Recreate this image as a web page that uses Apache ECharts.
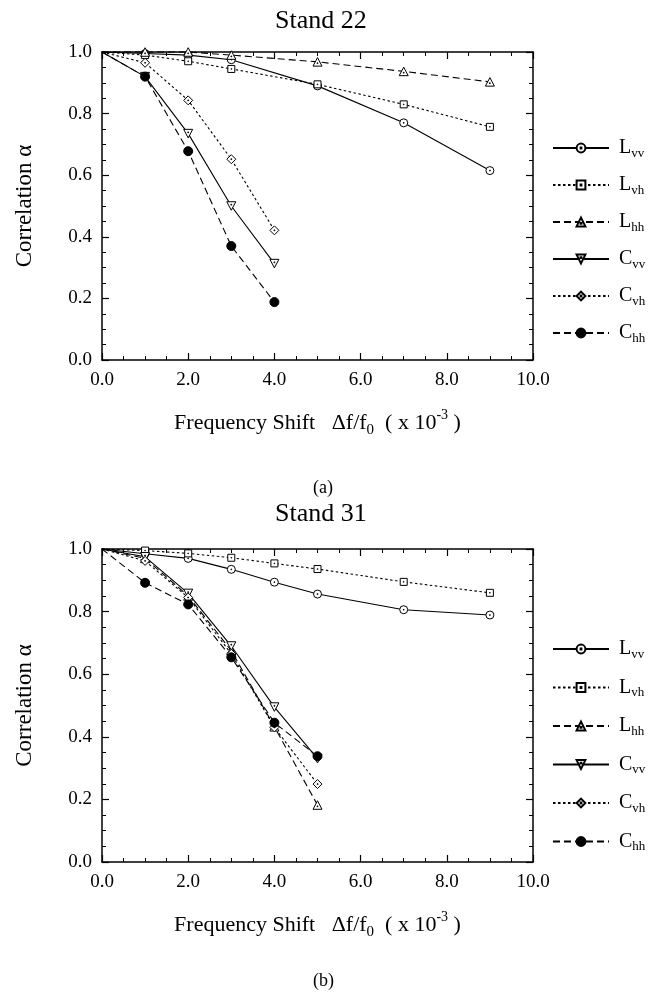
<!DOCTYPE html>
<html>
<head>
<meta charset="utf-8">
<script src="https://cdn.jsdelivr.net/npm/echarts@6/dist/echarts.min.js"></script>
<style>
  html, body { margin: 0; padding: 0; background: #fff; }
  #chart { width: 652px; height: 997px; }
</style>
</head>
<body>
<div id="chart"></div>
<script>
// Stand 22 (a)
const stand22X_L = [0, 1, 2, 3, 5, 7, 9];
const stand22_Lvv = [1.0, 0.995, 0.99, 0.975, 0.89, 0.77, 0.615];
const stand22_Lvh = [1.0, 0.99, 0.97, 0.945, 0.895, 0.83, 0.757];
const stand22_Lhh = [1.0, 1.0, 1.0, 0.99, 0.968, 0.937, 0.903];
const stand22X_C = [0, 1, 2, 3, 4];
const stand22_Cvv = [1.0, 0.92, 0.735, 0.50, 0.313];
const stand22_Cvh = [1.0, 0.965, 0.843, 0.652, 0.421];
const stand22_Chh = [1.0, 0.92, 0.678, 0.37, 0.188];

// Stand 31 (b)
const stand31X_L = [0, 1, 2, 3, 4, 5, 7, 9];
const stand31_Lvv = [1.0, 0.985, 0.97, 0.935, 0.894, 0.856, 0.806, 0.789];
const stand31_Lvh = [1.0, 0.995, 0.986, 0.972, 0.954, 0.936, 0.895, 0.86];
const stand31X_C = [0, 1, 2, 3, 4, 5];
const stand31_Lhh = [1.0, 0.97, 0.85, 0.675, 0.432, 0.182];
const stand31_Cvv = [1.0, 0.975, 0.858, 0.69, 0.495, 0.33];
const stand31_Cvh = [1.0, 0.962, 0.845, 0.665, 0.43, 0.249];
const stand31_Chh = [1.0, 0.892, 0.823, 0.654, 0.445, 0.338];

const seriesKeys = ['Lvv', 'Lvh', 'Lhh', 'Cvv', 'Cvh', 'Chh'];

const FONT = '"Liberation Serif", "DejaVu Serif", serif';
const DOT = 'M-0.9,-0.9H0.9V0.9H-0.9Z';
const sym = {
  Lvv: 'path://M0,-10A10,10,0,1,1,0,10A10,10,0,1,1,0,-10Z' + DOT,
  Lvh: 'path://M-10,-10H10V10H-10Z' + DOT,
  Lhh: 'path://M0,-11L10,8H-10Z' + 'M-0.9,0.5H0.9V2.3H-0.9Z',
  Cvv: 'path://M0,11L10,-8H-10Z' + 'M-0.9,-2.3H0.9V-0.5H-0.9Z',
  Cvh: 'path://M0,-10L10,0L0,10L-10,0Z' + DOT,
  Chh: 'circle'
};
const symSize = { Lvv: 8, Lvh: 7, Lhh: 9, Cvv: 9, Cvh: 9, Chh: 9 };
const dash = {
  Lvv: 'solid', Cvv: 'solid',
  Lvh: [2.5, 2.5], Cvh: [2.5, 2.5],
  Lhh: [7, 4], Chh: [7, 4]
};

function mk(prefix, key, gi, xs, ys) {
  return {
    name: prefix + ':' + key,
    type: 'line',
    xAxisIndex: gi * 2,
    yAxisIndex: gi * 2,
    // the common starting point (0, 1.0) carries no marker
    data: xs.map((x, i) => i === 0 ? { value: [x, ys[i]], symbol: 'none' } : [x, ys[i]]),
    symbol: sym[key],
    symbolSize: symSize[key],
    symbolKeepAspect: true,
    showAllSymbol: true,
    clip: false,
    lineStyle: { color: '#000', width: 1.1, type: dash[key] },
    itemStyle: { color: key === 'Chh' ? '#000' : '#fff', borderColor: '#000', borderWidth: 1 },
    emphasis: { disabled: true },
    animation: false
  };
}

function xAxes(gi) {
  const base = {
    type: 'value', gridIndex: gi, min: 0, max: 10, interval: 2,
    axisLine: { show: true, onZero: false, lineStyle: { color: '#000', width: 1.5 } },
    axisTick: { show: true, inside: true, length: 7, lineStyle: { color: '#000', width: 1.2 } },
    minorTick: { show: true, splitNumber: 4, length: 4, lineStyle: { color: '#000', width: 1 } },
    splitLine: { show: false }
  };
  return [
    Object.assign({}, base, {
      position: 'bottom',
      axisLabel: { color: '#000', fontFamily: FONT, fontSize: 19, margin: 11, formatter: v => v.toFixed(1) },
      name: '{n|Frequency Shift   Δf/f}{s|0}{n|  ( x 10}{p|-3}{n| )}',
      nameLocation: 'middle',
      nameGap: 48,
      nameTextStyle: {
        fontFamily: FONT, fontSize: 22, color: '#000',
        rich: {
          n: { fontFamily: FONT, fontSize: 22, color: '#000', lineHeight: 30 },
          s: { fontFamily: FONT, fontSize: 15, color: '#000', lineHeight: 13, verticalAlign: 'bottom' },
          p: { fontFamily: FONT, fontSize: 14, color: '#000', lineHeight: 14, verticalAlign: 'top' }
        }
      }
    }),
    Object.assign({}, base, { position: 'top', axisLabel: { show: false } })
  ];
}

function yAxes(gi) {
  const base = {
    type: 'value', gridIndex: gi, min: 0, max: 1, interval: 0.2,
    axisLine: { show: true, onZero: false, lineStyle: { color: '#000', width: 1.5 } },
    axisTick: { show: true, inside: true, length: 7, lineStyle: { color: '#000', width: 1.2 } },
    minorTick: { show: true, splitNumber: 4, length: 4, lineStyle: { color: '#000', width: 1 } },
    splitLine: { show: false }
  };
  return [
    Object.assign({}, base, {
      position: 'left',
      axisLabel: { color: '#000', fontFamily: FONT, fontSize: 19, margin: 10, formatter: v => v.toFixed(1) },
      name: 'Correlation α',
      nameLocation: 'middle',
      nameRotate: 90,
      nameGap: 66,
      nameTextStyle: { fontFamily: FONT, fontSize: 23, color: '#000' }
    }),
    Object.assign({}, base, { position: 'right', axisLabel: { show: false } })
  ];
}

function legend(prefix, top, gap) {
  return {
    orient: 'vertical',
    left: 547,
    top: top,
    itemWidth: 56,
    itemHeight: 11,
    itemGap: gap,
    selectedMode: false,
    data: seriesKeys.map(k => prefix + ':' + k),
    formatter: name => {
      const k = name.split(':')[1];
      return '{m|' + k[0] + '}{s|' + k.slice(1) + '}';
    },
    textStyle: {
      fontFamily: FONT, color: '#000', padding: [0, 0, 0, 5],
      rich: {
        m: { fontFamily: FONT, fontSize: 20, color: '#000', lineHeight: 24 },
        s: { fontFamily: FONT, fontSize: 13, color: '#000', lineHeight: 12, verticalAlign: 'bottom' }
      }
    }
  };
}

const chart = echarts.init(document.getElementById('chart'), null, { renderer: 'canvas' });

const series = [
  mk('a', 'Lvv', 0, stand22X_L, stand22_Lvv),
  mk('a', 'Lvh', 0, stand22X_L, stand22_Lvh),
  mk('a', 'Lhh', 0, stand22X_L, stand22_Lhh),
  mk('a', 'Cvv', 0, stand22X_C, stand22_Cvv),
  mk('a', 'Cvh', 0, stand22X_C, stand22_Cvh),
  mk('a', 'Chh', 0, stand22X_C, stand22_Chh),
  mk('b', 'Lvv', 1, stand31X_L, stand31_Lvv),
  mk('b', 'Lvh', 1, stand31X_L, stand31_Lvh),
  mk('b', 'Lhh', 1, stand31X_C, stand31_Lhh),
  mk('b', 'Cvv', 1, stand31X_C, stand31_Cvv),
  mk('b', 'Cvh', 1, stand31X_C, stand31_Cvh),
  mk('b', 'Chh', 1, stand31X_C, stand31_Chh)
];

chart.setOption({
  backgroundColor: '#fff',
  animation: false,
  title: [
    { text: 'Stand 22', left: 270, top: 3, textStyle: { fontFamily: FONT, fontSize: 26, fontWeight: 'normal', color: '#000' } },
    { text: '(a)', left: 308, top: 474, textStyle: { fontFamily: FONT, fontSize: 18, fontWeight: 'normal', color: '#000' } },
    { text: 'Stand 31', left: 270, top: 496, textStyle: { fontFamily: FONT, fontSize: 26, fontWeight: 'normal', color: '#000' } },
    { text: '(b)', left: 308, top: 967, textStyle: { fontFamily: FONT, fontSize: 18, fontWeight: 'normal', color: '#000' } }
  ],
  grid: [
    { left: 102, top: 52, width: 431, height: 308 },
    { left: 102, top: 549, width: 431, height: 313 }
  ],
  xAxis: xAxes(0).concat(xAxes(1)),
  yAxis: yAxes(0).concat(yAxes(1)),
  legend: [legend('a', 133, 15), legend('b', 634, 16.5)],
  series: series
});
</script>
</body>
</html>
